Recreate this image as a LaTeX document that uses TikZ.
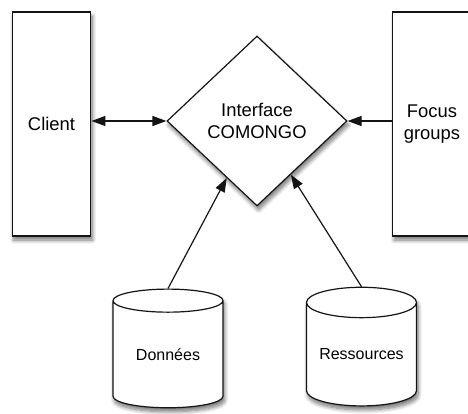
\documentclass[tikz,border=0pt]{standalone}
\usepackage{fontspec}
\setmainfont{Liberation Sans}
\usetikzlibrary{arrows.meta,positioning,shapes.geometric,shadows.blur}
\definecolor{shapeline}{RGB}{20,20,20}

\begin{document}
\begin{tikzpicture}[
    x=0.75pt, y=-0.75pt,
    >={Triangle[length=10.5pt, width=7.5pt]},
    every node/.style={font=\fontsize{13.8}{17}\selectfont},
    shade/.style={blur shadow={shadow xshift=1.2pt, shadow yshift=-3pt,
        shadow blur steps=8, shadow opacity=55, shadow blur radius=3pt}},
    actor/.style={rectangle, draw=shapeline, fill=white, line width=0.9pt,
        minimum width=59pt, minimum height=168pt, align=center, inner sep=0pt, shade},
    store/.style={cylinder, shape border rotate=90, aspect=0.36, draw=shapeline,
        fill=white, line width=0.9pt, minimum width=82.5pt, minimum height=89pt,
        inner sep=0pt, font=\fontsize{12}{14}\selectfont, shade},
    arrow/.style={->, line width=0.9pt, color=shapeline},
]
\useasboundingbox (0,0) rectangle (468,414);
\clip (0,0) rectangle (468,414);

% === Interface ===
\node[diamond, aspect=1.06, draw=shapeline, fill=white, line width=0.9pt,
      minimum width=135pt, minimum height=127.5pt, inner sep=0pt, align=center, shade]
    at (257,121) (iface) {Interface\\COMONGO};

% === Actors ===
\node[actor] at (51.5,124) (client) {Client};
\node[actor] at (432,124) (focus) {Focus\\groups};

% === Stores ===
\node[store] at (168,354.5) (donnees) {Données};
\node[store] at (361.5,354.5) (ressources) {Ressources};

% === Connectors ===
\draw[arrow, <->] (client.east |- iface) -- (iface.west);
\draw[arrow] (focus.west |- iface) -- (iface.east);
\draw[arrow] (donnees.north) -- (iface);
\draw[arrow] (ressources.north) -- (iface);

\end{tikzpicture}
\end{document}
